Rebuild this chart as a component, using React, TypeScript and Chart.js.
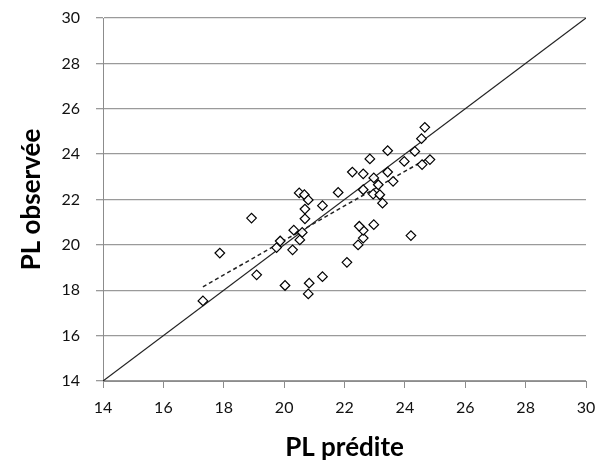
import React, { useEffect, useRef } from "react";
import { Chart, registerables } from "chart.js";

Chart.register(...registerables);

// Predicted PL (x) and observed PL (y)
const predicted = [
  17.31, 17.87, 18.92, 19.09, 19.75, 19.87, 20.03, 20.28, 20.32, 20.52,
  20.6, 20.5, 20.67, 20.69, 20.69, 20.8, 20.83, 20.8, 21.27, 21.27,
  21.79, 22.08, 22.45, 22.62, 22.62, 22.49, 22.97, 24.2, 22.26, 22.62,
  22.84, 22.97, 22.62, 22.95, 23.12, 23.17, 23.26, 23.43, 23.43, 23.61,
  23.98, 24.33, 24.55, 24.66, 24.57, 24.83,
];
const observed = [
  17.53, 19.64, 21.18, 18.68, 19.88, 20.17, 18.21, 19.78, 20.65, 20.22,
  20.55, 22.29, 22.21, 21.58, 21.15, 21.98, 18.31, 17.84, 18.6, 21.73,
  22.31, 19.23, 20.0, 20.3, 20.64, 20.82, 20.89, 20.41, 23.21, 23.13,
  23.79, 22.95, 22.43, 22.24, 22.65, 22.21, 21.84, 24.15, 23.21, 22.8,
  23.68, 24.12, 24.68, 25.18, 23.54, 23.76,
];
// identity line y = x
const identityX = [14, 30];
const identityY = [14, 30];
// linear trend line endpoints
const trendX = [17.31, 24.83];
const trendY = [18.15, 23.87];

const axisMin = 14;
const axisMax = 30;
const axisStep = 2;

const toPoints = (xs: number[], ys: number[]) => xs.map((x, i) => ({ x, y: ys[i] }));

export default function App() {
  const ref = useRef<HTMLCanvasElement | null>(null);

  useEffect(() => {
    if (!ref.current) return;
    const tickFont = { family: "Lato", size: 16 };
    const titleFont = { family: "Lato", size: 26, weight: "bold" as const };
    const chart = new Chart(ref.current, {
      type: "scatter",
      data: {
        datasets: [
          {
            label: "PL",
            data: toPoints(predicted, observed),
            pointStyle: "rectRot",
            pointRadius: 4.8,
            pointBorderWidth: 1.2,
            pointBorderColor: "#000",
            pointBackgroundColor: "rgba(255,255,255,0.9)",
            showLine: false,
          },
          {
            label: "identity",
            data: toPoints(identityX, identityY),
            showLine: true,
            borderColor: "#222",
            borderWidth: 1.2,
            pointRadius: 0,
          },
          {
            label: "trend",
            data: toPoints(trendX, trendY),
            showLine: true,
            borderColor: "#222",
            borderWidth: 1.5,
            borderDash: [4, 3],
            pointRadius: 0,
          },
        ],
      },
      options: {
        responsive: false,
        animation: false,
        layout: { padding: { top: 18, right: 15, left: 0, bottom: 0 } },
        plugins: { legend: { display: false }, tooltip: { enabled: false } },
        scales: {
          x: {
            type: "linear",
            min: axisMin,
            max: axisMax,
            ticks: { stepSize: axisStep, font: tickFont, color: "#111", padding: 10 },
            grid: { drawOnChartArea: false, drawTicks: true, tickLength: 7, color: "#8c8c8c" },
            border: { color: "#8c8c8c", width: 1 },
            title: {
              display: true,
              text: "PL prédite",
              font: titleFont,
              color: "#000",
              padding: { top: 0, bottom: 7 },
            },
            afterFit: (s: any) => {
              s.height = 89;
              s.paddingLeft = 0;
              s.paddingRight = 0;
            },
          },
          y: {
            type: "linear",
            min: axisMin,
            max: axisMax,
            ticks: { stepSize: axisStep, font: tickFont, color: "#111", padding: 16 },
            grid: { color: "#9a9a9a", lineWidth: 1.3, tickLength: 7, drawTicks: true },
            border: { color: "#8c8c8c", width: 1 },
            title: {
              display: true,
              text: "PL observée",
              font: titleFont,
              color: "#000",
              padding: { top: 16, bottom: 0 },
            },
            afterFit: (s: any) => {
              s.width = 103;
              s.paddingTop = 0;
              s.paddingBottom = 0;
            },
          },
        },
      },
    });
    return () => chart.destroy();
  }, []);

  return (
    <div style={{ position: "fixed", left: 0, top: 0, width: 601, height: 470, background: "#fff" }}>
      <canvas ref={ref} width={601} height={470} />
    </div>
  );
}
